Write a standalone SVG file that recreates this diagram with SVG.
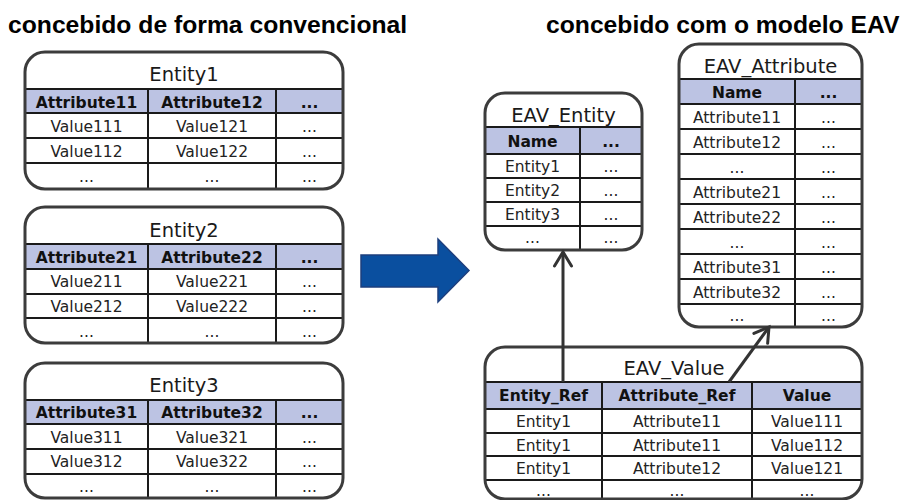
<svg xmlns="http://www.w3.org/2000/svg" width="904" height="500" viewBox="0 0 904 500">
<style>
.box{fill:none;stroke:#3c3c3c;stroke-width:3}
.bg{fill:#ffffff}
.hdr{fill:#bcc3e3}
.ln{stroke:#1a1a1a;stroke-width:2;fill:none}
.ttl{font-family:"DejaVu Sans",Verdana,sans-serif;font-size:19.5px;fill:#1a1a1a;text-anchor:middle}
.th{font-family:"DejaVu Sans",Verdana,sans-serif;font-size:15.5px;font-weight:bold;fill:#111;text-anchor:middle}
.td{font-family:"DejaVu Sans",Verdana,sans-serif;font-size:15.5px;fill:#222;text-anchor:middle}
.head{font-family:"Liberation Sans",Arial,sans-serif;font-size:24.7px;font-weight:bold;fill:#000}
.conn{stroke:#333;stroke-width:3;fill:none}
</style>
<defs>
<marker id="arr" markerUnits="userSpaceOnUse" markerWidth="20" markerHeight="22" refX="16" refY="10" orient="auto" viewBox="0 0 20 20">
<path d="M2,1.5 L16,10 L2,18.5" fill="none" stroke="#333" stroke-width="3" stroke-linecap="round" stroke-linejoin="miter"/>
</marker>
</defs>
<rect width="904" height="500" fill="#fff"/>

<text class="head" x="8" y="33">concebido de forma convencional</text>
<text class="head" x="546" y="33">concebido com o modelo EAV</text>

<g id="entity1">
<rect class="bg" x="25" y="52" width="318" height="137" rx="20"/>
<rect class="hdr" x="25" y="89" width="318" height="24"/>
<path class="ln" d="M25,89H343M25,113H343M25,138H343M25,163H343M148,89V189M276,89V189"/>
<rect class="box" x="25" y="52" width="318" height="137" rx="20"/>
<text class="ttl" x="184" y="81">Entity1</text>
<text class="th" x="86.5" y="107.5">Attribute11</text><text class="th" x="212" y="107.5">Attribute12</text><text class="th" x="309.5" y="107.5">...</text>
<text class="td" x="86.5" y="131.5">Value111</text><text class="td" x="212" y="131.5">Value121</text><text class="td" x="309.5" y="131.5">...</text>
<text class="td" x="86.5" y="156.5">Value112</text><text class="td" x="212" y="156.5">Value122</text><text class="td" x="309.5" y="156.5">...</text>
<text class="td" x="86.5" y="182">...</text><text class="td" x="212" y="182">...</text><text class="td" x="309.5" y="182">...</text>
</g>

<g id="entity2">
<rect class="bg" x="25" y="207" width="318" height="136" rx="20"/>
<rect class="hdr" x="25" y="244" width="318" height="25"/>
<path class="ln" d="M25,244H343M25,269H343M25,294H343M25,318H343M148,244V343M276,244V343"/>
<rect class="box" x="25" y="207" width="318" height="136" rx="20"/>
<text class="ttl" x="184" y="236.5">Entity2</text>
<text class="th" x="86.5" y="262.5">Attribute21</text><text class="th" x="212" y="262.5">Attribute22</text><text class="th" x="309.5" y="262.5">...</text>
<text class="td" x="86.5" y="287">Value211</text><text class="td" x="212" y="287">Value221</text><text class="td" x="309.5" y="287">...</text>
<text class="td" x="86.5" y="311.5">Value212</text><text class="td" x="212" y="311.5">Value222</text><text class="td" x="309.5" y="311.5">...</text>
<text class="td" x="86.5" y="336.5">...</text><text class="td" x="212" y="336.5">...</text><text class="td" x="309.5" y="336.5">...</text>
</g>

<g id="entity3">
<rect class="bg" x="25" y="363" width="318" height="135" rx="20"/>
<rect class="hdr" x="25" y="400" width="318" height="24"/>
<path class="ln" d="M25,400H343M25,424H343M25,449H343M25,474H343M148,400V498M276,400V498"/>
<rect class="box" x="25" y="363" width="318" height="135" rx="20"/>
<text class="ttl" x="184" y="392">Entity3</text>
<text class="th" x="86.5" y="418">Attribute31</text><text class="th" x="212" y="418">Attribute32</text><text class="th" x="309.5" y="418">...</text>
<text class="td" x="86.5" y="442.5">Value311</text><text class="td" x="212" y="442.5">Value321</text><text class="td" x="309.5" y="442.5">...</text>
<text class="td" x="86.5" y="467">Value312</text><text class="td" x="212" y="467">Value322</text><text class="td" x="309.5" y="467">...</text>
<text class="td" x="86.5" y="491.5">...</text><text class="td" x="212" y="491.5">...</text><text class="td" x="309.5" y="491.5">...</text>
</g>

<g id="transform-arrow">
<polygon points="361,255 438,255 438,239 469,270.5 438,302 438,287 361,287" fill="#0a4f9f" stroke="#1d3f7e" stroke-width="1.5"/>
</g>

<g id="eav-entity">
<rect class="bg" x="485" y="93" width="157" height="157" rx="20"/>
<rect class="hdr" x="485" y="127" width="157" height="27"/>
<path class="ln" d="M485,127H642M485,154H642M485,178H642M485,202H642M485,226H642M580,127V250"/>
<rect class="box" x="485" y="93" width="157" height="157" rx="20"/>
<text class="ttl" x="563.5" y="121.5">EAV_Entity</text>
<text class="th" x="532.5" y="146.5">Name</text><text class="th" x="611" y="146.5">...</text>
<text class="td" x="532.5" y="172">Entity1</text><text class="td" x="611" y="172">...</text>
<text class="td" x="532.5" y="196">Entity2</text><text class="td" x="611" y="196">...</text>
<text class="td" x="532.5" y="220">Entity3</text><text class="td" x="611" y="220">...</text>
<text class="td" x="532.5" y="243">...</text><text class="td" x="611" y="243">...</text>
</g>

<g id="eav-attribute">
<rect class="bg" x="679" y="44" width="183" height="283" rx="20"/>
<rect class="hdr" x="679" y="79" width="183" height="25"/>
<path class="ln" d="M679,79H862M679,104H862M679,129H862M679,154H862M679,179H862M679,204H862M679,229H862M679,254H862M679,279H862M679,304H862M795,79V327"/>
<rect class="box" x="679" y="44" width="183" height="283" rx="20"/>
<text class="ttl" x="770.5" y="73">EAV_Attribute</text>
<text class="th" x="737" y="97.5">Name</text><text class="th" x="828.5" y="97.5">...</text>
<text class="td" x="737" y="122.5">Attribute11</text><text class="td" x="828.5" y="122.5">...</text>
<text class="td" x="737" y="147.5">Attribute12</text><text class="td" x="828.5" y="147.5">...</text>
<text class="td" x="737" y="172.5">...</text><text class="td" x="828.5" y="172.5">...</text>
<text class="td" x="737" y="197.5">Attribute21</text><text class="td" x="828.5" y="197.5">...</text>
<text class="td" x="737" y="222.5">Attribute22</text><text class="td" x="828.5" y="222.5">...</text>
<text class="td" x="737" y="247.5">...</text><text class="td" x="828.5" y="247.5">...</text>
<text class="td" x="737" y="272.5">Attribute31</text><text class="td" x="828.5" y="272.5">...</text>
<text class="td" x="737" y="297.5">Attribute32</text><text class="td" x="828.5" y="297.5">...</text>
<text class="td" x="737" y="321">...</text><text class="td" x="828.5" y="321">...</text>
</g>

<g id="eav-value">
<rect class="bg" x="485" y="347" width="377" height="152" rx="20"/>
<rect class="hdr" x="485" y="382" width="377" height="27"/>
<path class="ln" d="M485,382H862M485,409H862M485,433H862M485,456H862M485,480H862M602,382V499M752,382V499"/>
<rect class="box" x="485" y="347" width="377" height="152" rx="20"/>
<text class="ttl" x="674" y="375">EAV_Value</text>
<text class="th" x="543.5" y="401">Entity_Ref</text><text class="th" x="677" y="401">Attribute_Ref</text><text class="th" x="807" y="401">Value</text>
<text class="td" x="543.5" y="427">Entity1</text><text class="td" x="677" y="427">Attribute11</text><text class="td" x="807" y="427">Value111</text>
<text class="td" x="543.5" y="450.5">Entity1</text><text class="td" x="677" y="450.5">Attribute11</text><text class="td" x="807" y="450.5">Value112</text>
<text class="td" x="543.5" y="474">Entity1</text><text class="td" x="677" y="474">Attribute12</text><text class="td" x="807" y="474">Value121</text>
<text class="td" x="543.5" y="496">...</text><text class="td" x="677" y="496">...</text><text class="td" x="807" y="496">...</text>
</g>

<g id="connectors">
<line class="conn" x1="563" y1="382" x2="563" y2="252" marker-end="url(#arr)"/>
<line class="conn" x1="729" y1="382" x2="769" y2="327" marker-end="url(#arr)"/>
</g>
</svg>
